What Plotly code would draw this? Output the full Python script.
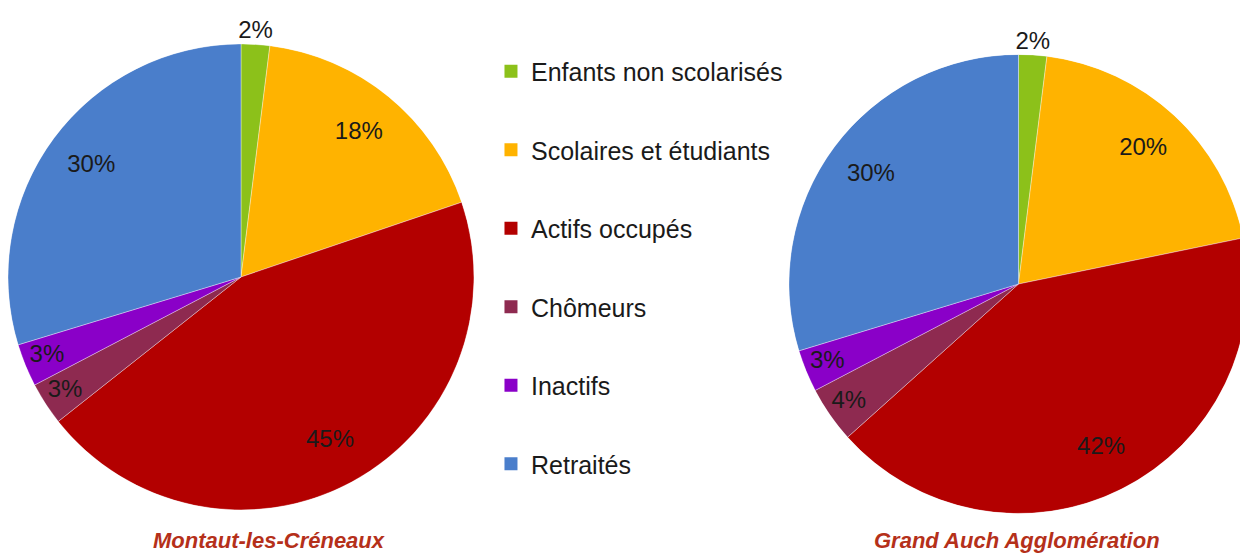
import plotly.graph_objects as go

categories = ["Enfants non scolarisés", "Scolaires et étudiants", "Actifs occupés",
              "Chômeurs", "Inactifs", "Retraités"]
montaut = [2, 18, 45, 3, 3, 30]
grand_auch = [2, 20, 42, 4, 3, 30]
couleurs = ["#8CC11A", "#FFB300", "#B30000", "#8E2A50", "#8A00C8", "#4A7ECB"]
titres = ["Montaut-les-Créneaux", "Grand Auch Agglomération"]

POLICE = "Liberation Sans, Arial, sans-serif"

fig = go.Figure()


def angles_parts(valeurs):
    # angle médian et largeur de chaque part, en degrés (sens horaire depuis midi)
    total = sum(valeurs)
    cumul, milieux, largeurs = 0, [], []
    for v in valeurs:
        milieux.append((cumul + v / 2) / total * 360)
        largeurs.append(v / total * 360)
        cumul += v
    return milieux, largeurs


def camembert(valeurs, polaire):
    milieux, largeurs = angles_parts(valeurs)
    return go.Barpolar(
        r=[1] * len(valeurs), theta=milieux, width=largeurs,
        marker=dict(color=couleurs, line=dict(color="rgba(255,255,255,0.6)", width=0.6)),
        customdata=categories, hovertemplate="%{customdata}<extra></extra>",
        showlegend=False, subplot=polaire,
    )


def etiquettes(valeurs, polaire):
    milieux, _ = angles_parts(valeurs)
    # petite part : étiquette posée au bord, au-dessus de la part
    rayons = [1.0 if v <= 2 else (0.9 if v < 5 else 0.8) for v in valeurs]
    positions = ["top center" if v <= 2 else "middle center" for v in valeurs]
    return go.Scatterpolar(
        r=rayons, theta=milieux, mode="text",
        text=[f"{v}%" for v in valeurs], textposition=positions,
        textfont=dict(family=POLICE, size=24, color="#1a1a1a"),
        cliponaxis=False, showlegend=False, hoverinfo="skip",
        subplot=polaire,
    )


fig.add_trace(camembert(montaut, "polar"))
fig.add_trace(camembert(grand_auch, "polar2"))
fig.add_trace(etiquettes(montaut, "polar"))
fig.add_trace(etiquettes(grand_auch, "polar2"))

# Légende : une entrée par catégorie pour pouvoir espacer les lignes
for nom, couleur in zip(categories, couleurs):
    fig.add_trace(go.Scatter(
        x=[None], y=[None], mode="markers", name=nom,
        legendgroup=nom,
        marker=dict(symbol="square", size=13, color=couleur),
    ))

polaire_cachee = dict(
    bgcolor="rgba(0,0,0,0)",
    radialaxis=dict(visible=False, range=[0, 1]),
    angularaxis=dict(visible=False, direction="clockwise", rotation=90),
)

# la page ajoute une marge de 8 px autour de la figure
fig.update_layout(
    width=1240, height=546,
    margin=dict(l=0, r=0, t=0, b=0),
    paper_bgcolor="white", plot_bgcolor="white",
    xaxis=dict(visible=False), yaxis=dict(visible=False),
    polar=dict(domain=dict(x=[0.0, 0.3758], y=[0.0806, 0.9341]), **polaire_cachee),
    polar2=dict(domain=dict(x=[0.6298, 1.0], y=[0.0714, 0.9176]), **polaire_cachee),
    font=dict(family=POLICE, color="#1a1a1a"),
    legend=dict(
        x=0.3895, y=0.9258, xanchor="left", yanchor="top",
        font=dict(family=POLICE, size=25, color="#1a1a1a"),
        tracegroupgap=43, itemwidth=30, bgcolor="rgba(0,0,0,0)",
    ),
    annotations=[
        dict(text=f"<b><i>{titres[0]}</i></b>", x=0.2105, y=0.0256, xref="paper", yref="paper",
             xanchor="center", yanchor="middle", showarrow=False,
             font=dict(family=POLICE, size=22, color="#B5301A")),
        dict(text=f"<b><i>{titres[1]}</i></b>", x=0.8137, y=0.0256, xref="paper", yref="paper",
             xanchor="center", yanchor="middle", showarrow=False,
             font=dict(family=POLICE, size=22, color="#B5301A")),
    ],
)

fig.write_html("out.html")
